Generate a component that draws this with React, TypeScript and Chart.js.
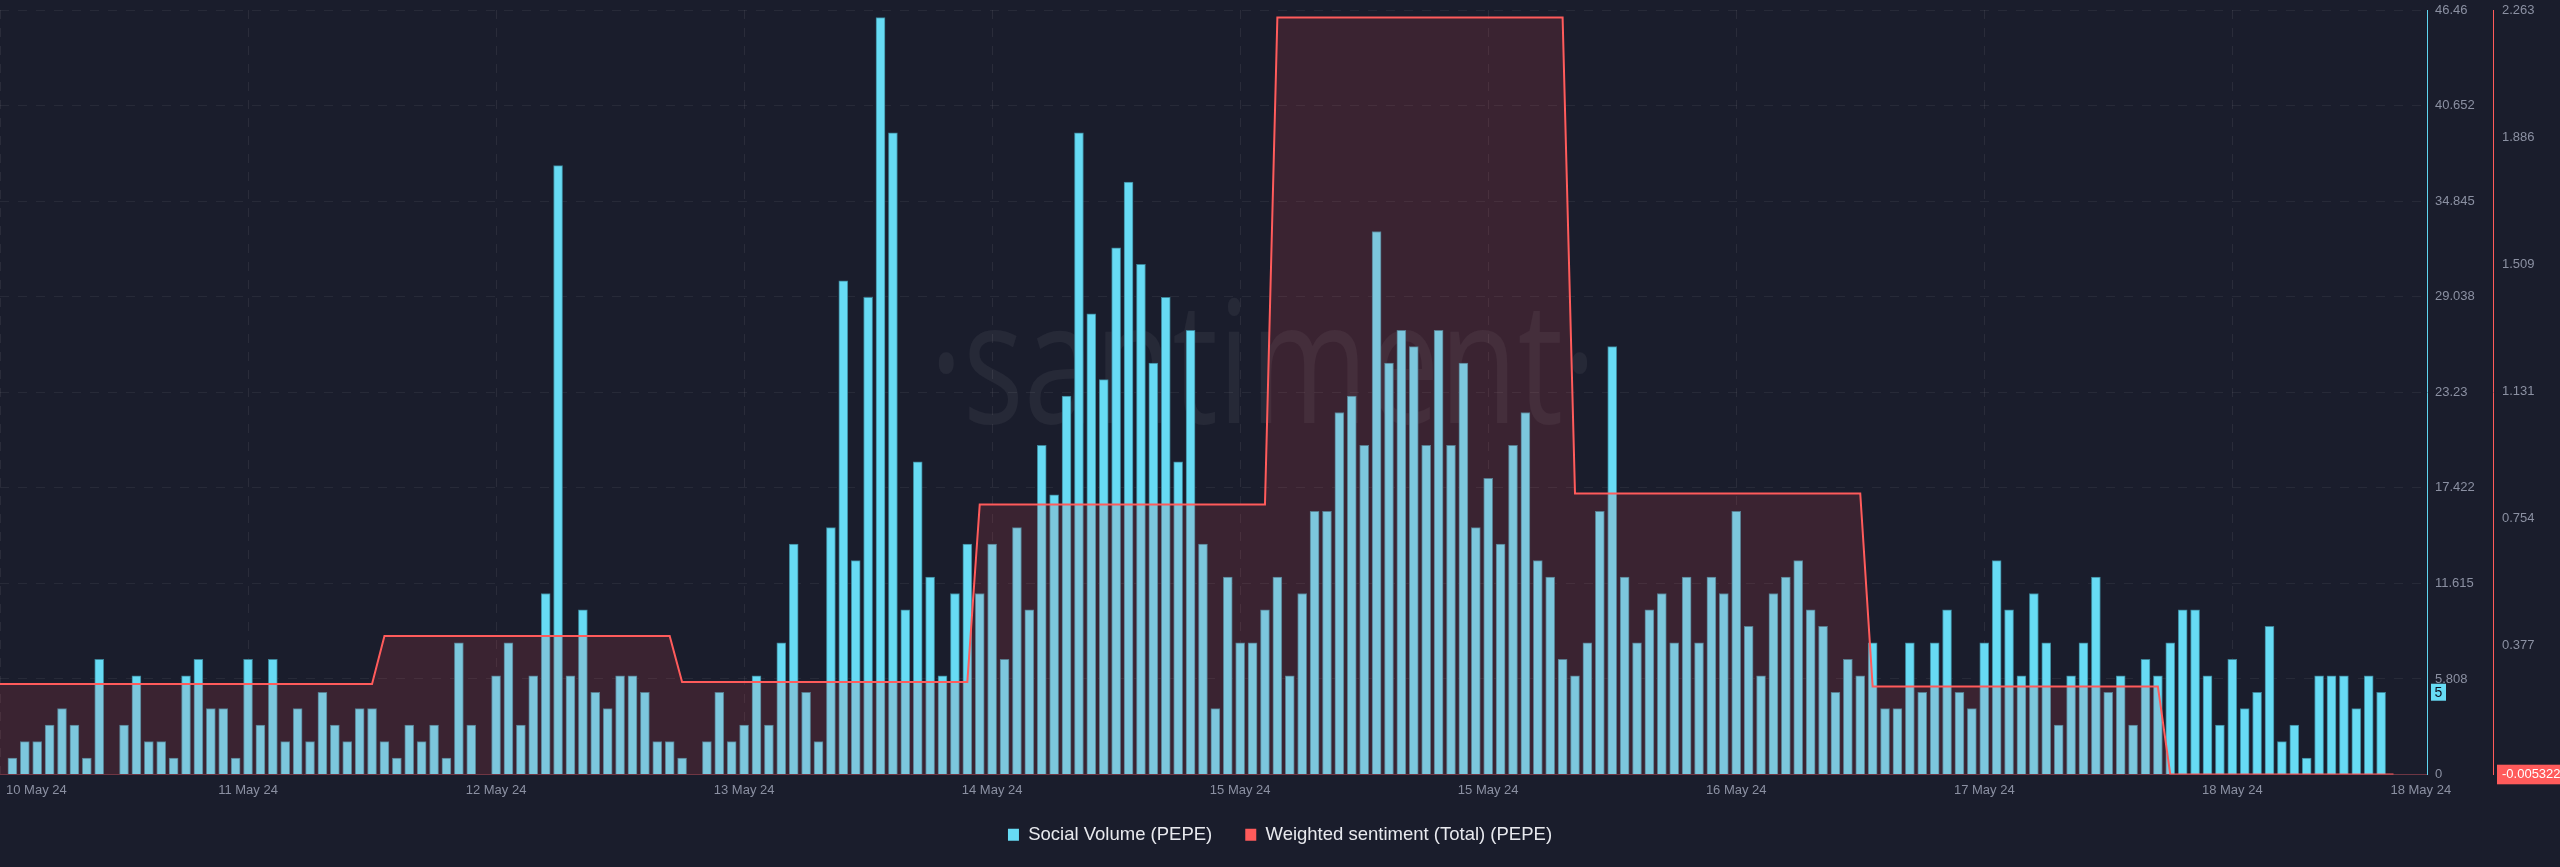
import React, { useEffect, useRef } from "react";
import { Chart, registerables } from "chart.js";

Chart.register(...registerables);

// Hourly social volume (PEPE), hour 0 .. 192
const socialVolume = [
  0, 1, 2, 2, 3, 4, 3, 1, 7, 0, 3, 6, 2, 2, 1, 6, 7, 4, 4, 1,
  7, 3, 7, 2, 4, 2, 5, 3, 2, 4, 4, 2, 1, 3, 2, 3, 1, 8, 3, 0,
  6, 8, 3, 6, 11, 37, 6, 10, 5, 4, 6, 6, 5, 2, 2, 1, 0, 2, 5, 2,
  3, 6, 3, 8, 14, 5, 2, 15, 30, 13, 29, 46, 39, 10, 19, 12, 6, 11, 14, 11,
  14, 7, 15, 10, 20, 17, 23, 39, 28, 24, 32, 36, 31, 25, 29, 19, 27, 14, 4, 12,
  8, 8, 10, 12, 6, 11, 16, 16, 22, 23, 20, 33, 25, 27, 26, 20, 27, 20, 25, 15,
  18, 14, 20, 22, 13, 12, 7, 6, 8, 16, 26, 12, 8, 10, 11, 8, 12, 8, 12, 11,
  16, 9, 6, 11, 12, 13, 10, 9, 5, 7, 6, 8, 4, 4, 8, 5, 8, 10, 5, 4,
  8, 13, 10, 6, 11, 8, 3, 6, 8, 12, 5, 6, 3, 7, 6, 8, 10, 10, 6, 3,
  7, 4, 5, 9, 2, 3, 1, 6, 6, 6, 4, 6, 5,
];

// Weighted sentiment (daily level) and the hour at which each level starts
const sentimentLevels = [0.263, 0.4055, 0.269, 0.796, 2.2406, 0.8286, 0.256, -0.00527];
const sentimentStartHours = [0, 31, 55, 79, 103, 127, 151, 175];
const sentimentEndHour = 193;

// Axis ticks
const xTickHours = [0, 20, 40, 60, 80, 100, 120, 140, 160, 180];
const xTickLabels = [
  "10 May 24", "11 May 24", "12 May 24", "13 May 24", "14 May 24",
  "15 May 24", "15 May 24", "16 May 24", "17 May 24", "18 May 24",
];
const xEndHour = 195.2;
const xEndLabel = "18 May 24";
const volumeTicks = [0, 5.808, 11.615, 17.422, 23.23, 29.038, 34.845, 40.652, 46.46];
const sentimentTicks = [-0.005322, 0.377, 0.754, 1.131, 1.509, 1.886, 2.263];

const seriesNames = ["Social Volume (PEPE)", "Weighted sentiment (Total) (PEPE)"];

const BG = "#1a1d2c";
const CYAN = "#67dbf4";
const RED = "#ff5b5b";
const TICK_GRAY = "#8b90a2";
const FONT = "'Liberation Sans', Arial, Helvetica, sans-serif";

export default function App() {
  const canvasRef = useRef<HTMLCanvasElement | null>(null);

  useEffect(() => {
    if (!canvasRef.current) return;

    const barPoints = socialVolume.map((v, i) => ({ x: i, y: v }));
    const sentimentPoints: { x: number; y: number }[] = [];
    sentimentLevels.forEach((lvl, k) => {
      const s = sentimentStartHours[k];
      const e = k < sentimentStartHours.length - 1 ? sentimentStartHours[k + 1] - 1 : sentimentEndHour;
      sentimentPoints.push({ x: s, y: lvl }, { x: e, y: lvl });
    });

    const bgPlugin = {
      id: "bg",
      beforeDraw(chart: any) {
        const { ctx, width, height } = chart;
        ctx.save();
        ctx.fillStyle = BG;
        ctx.fillRect(0, 0, width, height);
        ctx.restore();
      },
    };

    const watermarkPlugin = {
      id: "watermark",
      beforeDatasetsDraw(chart: any) {
        const { ctx, chartArea } = chart;
        ctx.save();
        ctx.font = "400 170px 'Open Sans', sans-serif";
        const text = "·santiment·";
        const w = ctx.measureText(text).width;
        const target = 667;
        const cx = chartArea.left + chartArea.width * 0.5204;
        ctx.translate(cx, chartArea.top + 413);
        ctx.scale(target / w, 1);
        ctx.fillStyle = "rgba(255,255,255,0.055)";
        ctx.textAlign = "center";
        ctx.textBaseline = "alphabetic";
        ctx.fillText(text, 0, 0);
        ctx.restore();
      },
    };

    const overlayPlugin = {
      id: "overlay",
      afterDraw(chart: any) {
        const { ctx, chartArea, scales } = chart;
        const xs = scales.x;
        ctx.save();
        ctx.font = `13px ${FONT}`;
        ctx.fillStyle = TICK_GRAY;
        ctx.textAlign = "center";
        ctx.textBaseline = "middle";
        const ly = chartArea.bottom + 16;
        xTickHours.forEach((h, i) => {
          const label = xTickLabels[i];
          const w = ctx.measureText(label).width;
          let px = xs.getPixelForValue(h);
          px = Math.max(px, chartArea.left + 6 + w / 2);
          ctx.fillText(label, px, ly);
        });
        ctx.fillText(xEndLabel, xs.getPixelForValue(xEndHour), ly);

        // last value badge for social volume
        const last = socialVolume[socialVolume.length - 1];
        const yv = scales.y.getPixelForValue(last);
        const bx = chartArea.right + 4;
        ctx.fillStyle = CYAN;
        ctx.fillRect(bx, yv - 8.5, 15, 17);
        ctx.fillStyle = "#0d1020";
        ctx.font = `14px ${FONT}`;
        ctx.fillText(String(last), bx + 7.5, yv + 0.5);
        ctx.restore();
      },
    };

    const legendColors = [CYAN, RED];

    const chart = new Chart(canvasRef.current, {
      type: "bar",
      data: {
        datasets: [
          {
            type: "bar",
            label: seriesNames[0],
            data: barPoints,
            yAxisID: "y",
            backgroundColor: CYAN,
            borderColor: "#3c8599",
            borderWidth: 1,
            barThickness: 9,
            order: 2,
          } as any,
          {
            type: "line",
            label: seriesNames[1],
            data: sentimentPoints,
            yAxisID: "y1",
            borderColor: RED,
            borderWidth: 2,
            backgroundColor: "rgba(255,79,87,0.14)",
            fill: "start",
            pointRadius: 0,
            tension: 0,
            order: 1,
          } as any,
        ],
      },
      options: {
        animation: false,
        responsive: true,
        maintainAspectRatio: false,
        layout: { padding: { top: 10, bottom: 13, left: 0, right: 0 } },
        font: { family: FONT },
        plugins: {
          tooltip: { enabled: false },
          legend: {
            position: "bottom",
            align: "center",
            labels: {
              color: "#e8e9ee",
              font: { size: 18.5, family: FONT },
              boxWidth: 11,
              boxHeight: 12,
              padding: 33,
              generateLabels: () =>
                seriesNames.map((n, i) => ({
                  text: n,
                  fillStyle: legendColors[i],
                  strokeStyle: legendColors[i],
                  lineWidth: 0,
                  hidden: false,
                  datasetIndex: i,
                  fontColor: "#e8e9ee",
                })),
            },
          },
        },
        scales: {
          x: {
            type: "linear",
            min: 0,
            max: 195.7,
            offset: false,
            afterBuildTicks: (s: any) => {
              s.ticks = xTickHours.map((v) => ({ value: v }));
            },
            afterFit: (s: any) => {
              s.height = 18;
              s.paddingLeft = 0;
              s.paddingRight = 0;
            },
            ticks: { display: false },
            grid: { color: "rgba(255,255,255,0.07)", drawTicks: false, lineWidth: 1, offset: false },
            border: { display: true, color: "#6e3644", width: 1, dash: [9, 9] },
          },
          y: {
            type: "linear",
            position: "right",
            weight: 0,
            min: 0,
            max: 46.46,
            afterBuildTicks: (s: any) => {
              s.ticks = volumeTicks.map((v) => ({ value: v }));
            },
            afterFit: (s: any) => {
              s.width = 66;
              s.paddingTop = 0;
              s.paddingBottom = 0;
            },
            ticks: {
              color: TICK_GRAY,
              font: { size: 13, family: FONT },
              padding: 8,
              callback: (v: any) => String(v),
            },
            grid: { color: "rgba(255,255,255,0.06)", drawTicks: false, lineWidth: 1 },
            border: { display: true, color: "#5fd6f0", width: 1, dash: [9, 9] },
          },
          y1: {
            type: "linear",
            position: "right",
            weight: 1,
            min: -0.005322,
            max: 2.263,
            afterBuildTicks: (s: any) => {
              s.ticks = sentimentTicks.map((v) => ({ value: v }));
            },
            afterFit: (s: any) => {
              s.width = 67;
              s.paddingTop = 0;
              s.paddingBottom = 0;
            },
            ticks: {
              color: (c: any) => (c.index === 0 ? "#ffffff" : TICK_GRAY),
              font: { size: 13, family: FONT },
              padding: 9,
              showLabelBackdrop: (c: any) => c.index === 0,
              backdropColor: RED,
              backdropPadding: { top: 2, bottom: 2, left: 5, right: 5 },
              callback: (v: any) => String(v),
            },
            grid: { display: false, drawTicks: false },
            border: { display: true, color: RED, width: 1 },
          },
        },
      } as any,
      plugins: [bgPlugin, watermarkPlugin, overlayPlugin],
    });

    return () => chart.destroy();
  }, []);

  return (
    <div
      style={{
        position: "absolute",
        left: 0,
        top: 0,
        width: 2560,
        height: 867,
        background: BG,
      }}
    >
      <canvas ref={canvasRef} />
    </div>
  );
}
